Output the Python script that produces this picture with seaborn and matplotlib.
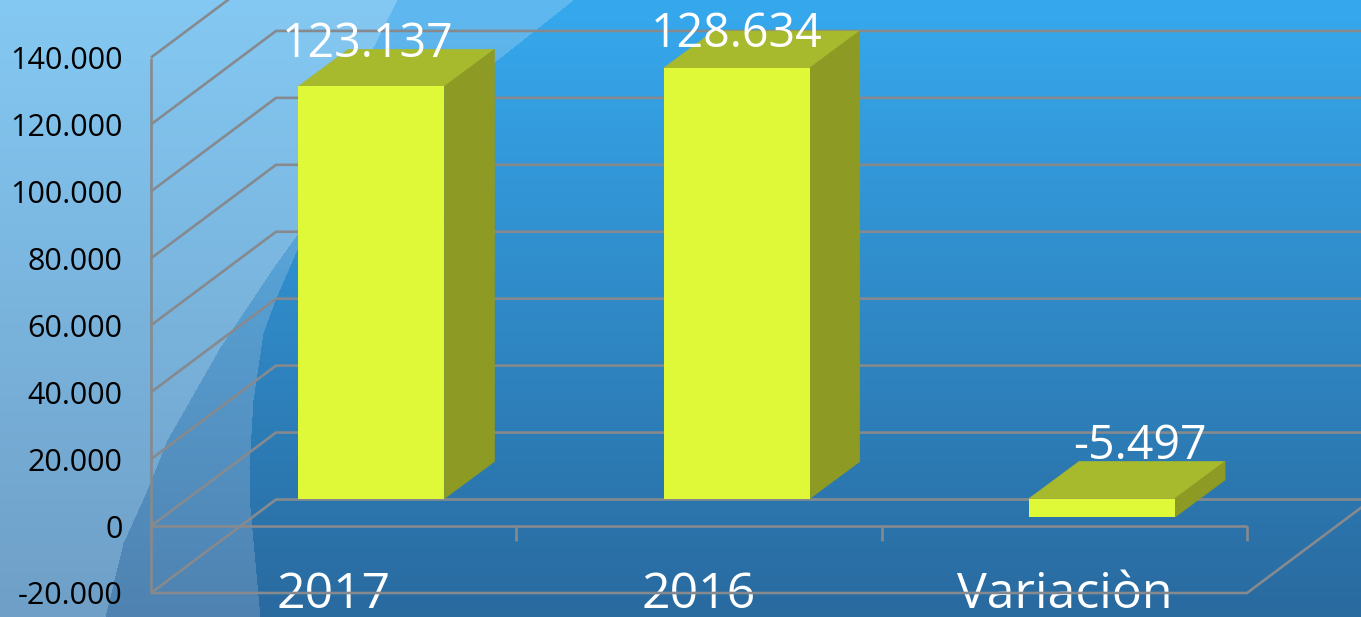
# Recreated 3D-look bar chart: seaborn draws the front faces, depth is added by hand
import numpy as np
import matplotlib
matplotlib.use("Agg")
import matplotlib.pyplot as plt
from matplotlib.patches import Polygon
import seaborn as sns

categories = ["2017", "2016", "Variaciòn"]
values = [123137, 128634, -5497]
y_ticks = [-20000, 0, 20000, 40000, 60000, 80000, 100000, 120000, 140000]

W, H = 1361, 617
sns.set_theme(style="white")
plt.rcParams["font.family"] = ["Open Sans", "DejaVu Sans"]

FRONT = "#dff938"
TOP = "#a7b92c"
SIDE = "#8d9b24"
GRID = "#868a8e"

# plot box in pixels
LEFT, RIGHT, TOP_PX, BOTTOM_PX = 151, 1247, 57.5, 593
X_PER_PX = 3 / (RIGHT - LEFT)
Y_PER_PX = 160000 / (BOTTOM_PX - TOP_PX)


def depth(dx_px, dy_px):
    return dx_px * X_PER_PX, dy_px * Y_PER_PX


def dots(v):
    return f"{v:,}".replace(",", ".")


def gradient(top, bottom):
    top = np.array(matplotlib.colors.to_rgb(top))
    bottom = np.array(matplotlib.colors.to_rgb(bottom))
    t = np.linspace(0, 1, H)[:, None]
    return top + (bottom - top) * t


# background: vertical gradients with two curved shapes on the left
fig = plt.figure(figsize=(W / 100, H / 100), dpi=100)
row = np.arange(H)
edge_a = np.interp(row, [0, 47, 233, 265, 347, 440, 490, 543, 617],
                   [397, 373, 298, 275, 220, 167, 147, 123, 105])
edge_b = np.interp(row, [0, 60, 140, 247, 300, 333, 400, 467, 507, 617],
                   [573, 497, 400, 298, 275, 263, 253, 249, 250, 260])
cols = np.arange(W)[None, :]
bg = np.repeat(gradient("#36a9ee", "#296a9f")[:, None, :], W, axis=1)
band = gradient("#5fb9f0", "#4f82b0")[:, None, :]
light = gradient("#84c9f3", "#6f9fc7")[:, None, :]
bg = np.where((cols < edge_b[:, None])[..., None], band, bg)
bg = np.where((cols < edge_a[:, None])[..., None], light, bg)
back = fig.add_axes([0, 0, 1, 1])
back.imshow(bg, aspect="auto", extent=(0, W, H, 0))
back.axis("off")

ax = fig.add_axes([LEFT / W, 1 - BOTTOM_PX / H, (RIGHT - LEFT) / W, (BOTTOM_PX - TOP_PX) / H])
ax.patch.set_alpha(0)
sns.barplot(x=categories, y=values, color=FRONT, saturation=1, width=146 / 365.33, ax=ax, zorder=4, linewidth=0)
ax.set_xlim(-0.5, 2.5)
ax.set_ylim(y_ticks[0], y_ticks[-1])
sns.despine(ax=ax, left=True, bottom=True)

# walls
wall_dx, wall_dy = depth(125, 93.5)
line_style = dict(color=GRID, lw=1.9, clip_on=False, zorder=1, solid_capstyle="butt")
for t in y_ticks:
    ax.plot([-0.5, -0.5 + wall_dx, 2.5 + wall_dx], [t, t + wall_dy, t + wall_dy], **line_style)
ax.plot([-0.5, -0.5], [y_ticks[0], y_ticks[-1]], **line_style)
ax.plot([-0.5, 2.5, 2.5 + wall_dx], [y_ticks[0], y_ticks[0], y_ticks[0] + wall_dy], **line_style)
ax.plot([-0.5, 2.5], [0, 0], **line_style)
tick_drop = 15 * Y_PER_PX
for x in [-0.5, 0.5, 1.5, 2.5]:
    ax.plot([x, x], [0, -tick_drop], **line_style)

ax.set_yticks(y_ticks, [dots(t) for t in y_ticks])
ax.tick_params(axis="y", length=6.5, width=1.5, color=GRID, pad=14, labelsize=22, labelcolor="black")
ax.tick_params(axis="x", length=0, pad=-16.5, labelsize=36, labelcolor="white")

# bars sit partway into the floor
bar_dx, bar_dy = depth(37.7, 27.5)
face_dx, face_dy = depth(50, 37)
label_shift = [(-4, 29), (0, 21), (38, 40)]
for bar, v, (sx, sy) in zip(ax.patches, values, label_shift):
    bar.set_x(bar.get_x() + bar_dx)
    bar.set_y(bar.get_y() + bar_dy)
    x0, x1 = bar.get_x(), bar.get_x() + bar.get_width()
    y0, y1 = sorted([bar.get_y(), bar.get_y() + bar.get_height()])
    ax.add_patch(Polygon([(x0, y1), (x1, y1), (x1 + face_dx, y1 + face_dy), (x0 + face_dx, y1 + face_dy)],
                         fc=TOP, ec=TOP, lw=0.5, zorder=3, clip_on=False))
    ax.add_patch(Polygon([(x1, y0), (x1 + face_dx, y0 + face_dy), (x1 + face_dx, y1 + face_dy), (x1, y1)],
                         fc=SIDE, ec=SIDE, lw=0.5, zorder=3, clip_on=False))
    ax.annotate(dots(v), xy=((x0 + x1) / 2, y1), xytext=(sx * 0.72, sy * 0.72), textcoords="offset points",
                ha="center", va="baseline", color="white", fontsize=33.5, zorder=6, annotation_clip=False)

fig.savefig("out.png", dpi=100)
